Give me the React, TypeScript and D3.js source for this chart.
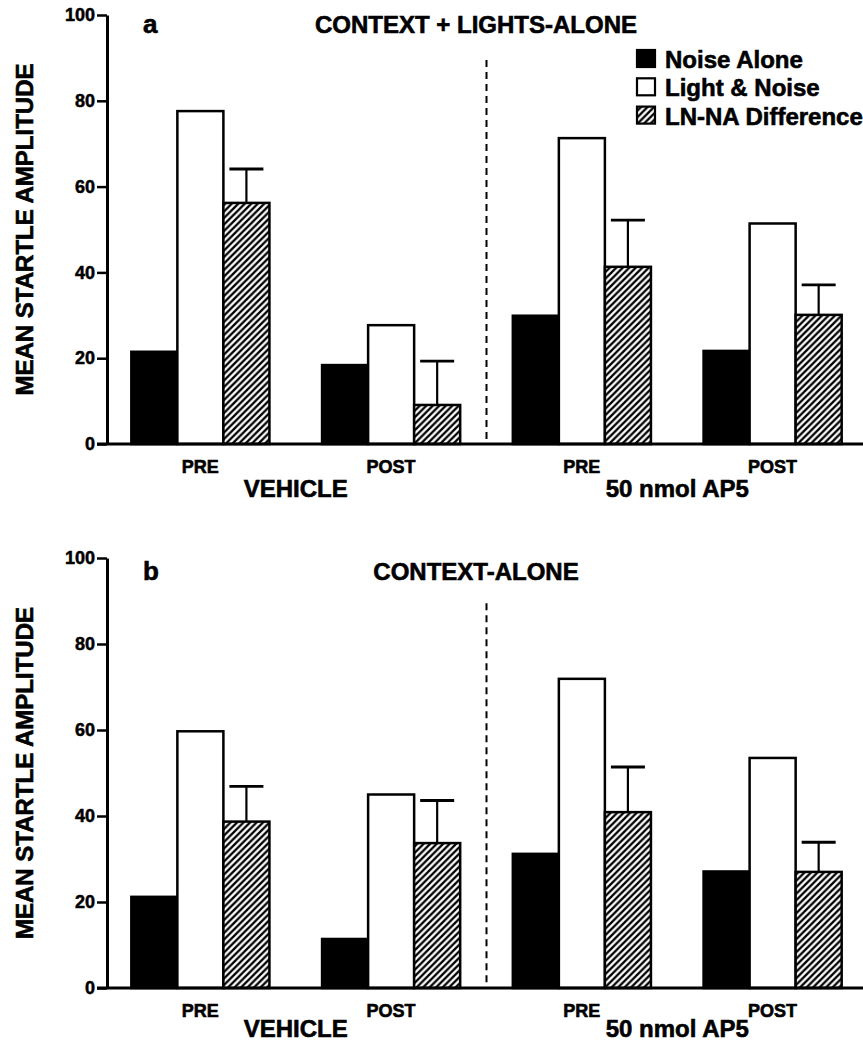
import * as d3 from "d3";
import { useEffect, useRef } from "react";

const groups = ["VEH-PRE", "VEH-POST", "AP5-PRE", "AP5-POST"];
const phaseLabels = ["PRE", "POST", "PRE", "POST"];
const treatments = ["VEHICLE", "50 nmol AP5"];
const series = ["Noise Alone", "Light & Noise", "LN-NA Difference"];
const yTicks = [0, 20, 40, 60, 80, 100];

// panel a: context + lights-alone
const noiseA = [21.5, 18.4, 29.9, 21.7];
const lightA = [77.6, 27.7, 71.3, 51.4];
const diffA = [56.2, 9.1, 41.3, 30.1];
const semA = [7.9, 10.2, 10.9, 7.0];

// panel b: context-alone
const noiseB = [21.2, 11.4, 31.2, 27.1];
const lightB = [59.7, 45.0, 71.9, 53.5];
const diffB = [38.7, 33.7, 40.9, 27.0];
const semB = [8.2, 9.9, 10.5, 6.9];

const WIDTH = 863;
const HEIGHT = 1042;
const FONT = "'Liberation Sans', Arial, Helvetica, sans-serif";
const AXIS_X = 107;
const DIVIDER_TOP = 89.5; // in data units
const fills = ["#000", "#fff", "url(#hatch)"];

const panels = [
  { letter: "a", title: "CONTEXT + LIGHTS-ALONE", top: 15, bottom: 444, titleY: 33, treatDy: 53, values: [noiseA, lightA, diffA], sem: semA, legend: true },
  { letter: "b", title: "CONTEXT-ALONE", top: 558, bottom: 988, titleY: 580, treatDy: 49, values: [noiseB, lightB, diffB], sem: semB, legend: false },
];

export default function App() {
  const ref = useRef<SVGSVGElement>(null);

  useEffect(() => {
    if (!ref.current) return;
    const svg = d3.select(ref.current);
    svg.selectAll("*").remove();

    const defs = svg.append("defs");
    const pat = defs.append("pattern")
      .attr("id", "hatch")
      .attr("patternUnits", "userSpaceOnUse")
      .attr("width", 6.5)
      .attr("height", 6.5);
    pat.append("rect").attr("width", 6.5).attr("height", 6.5).attr("fill", "#fff");
    pat.append("path")
      .attr("d", "M-1,1 l2,-2 M0,6.5 l6.5,-6.5 M5.5,7.5 l2,-2")
      .attr("stroke", "#000")
      .attr("stroke-width", 2.3);

    const x = d3.scaleBand<string>()
      .domain(groups)
      .range([105, 868])
      .paddingInner(0.276)
      .paddingOuter(0.138);
    const xs = d3.scaleBand<string>().domain(series).range([0, x.bandwidth()]);

    panels.forEach((p) => {
      const y = d3.scaleLinear().domain([0, 100]).range([p.bottom, p.top]);
      const g = svg.append("g").attr("font-family", FONT).attr("font-weight", "bold");

      const rows = groups.flatMap((grp, i) =>
        series.map((s, j) => ({ grp, s, j, v: p.values[j][i] }))
      );

      g.selectAll("rect.bar")
        .data(rows)
        .join("rect")
        .attr("class", "bar")
        .attr("x", (d) => x(d.grp)! + xs(d.s)!)
        .attr("y", (d) => y(d.v))
        .attr("width", xs.bandwidth())
        .attr("height", (d) => y(0) - y(d.v))
        .attr("fill", (d) => fills[d.j])
        .attr("stroke", "#000")
        .attr("stroke-width", 2.5);

      // error bars on the difference series
      const errs = groups.map((grp, i) => ({
        cx: x(grp)! + xs(series[2])! + xs.bandwidth() / 2,
        v: p.values[2][i],
        e: p.sem[i],
      }));
      g.selectAll("line.stem")
        .data(errs)
        .join("line")
        .attr("class", "stem")
        .attr("x1", (d) => d.cx).attr("x2", (d) => d.cx)
        .attr("y1", (d) => y(d.v)).attr("y2", (d) => y(d.v + d.e))
        .attr("stroke", "#000").attr("stroke-width", 2.2);
      g.selectAll("line.cap")
        .data(errs)
        .join("line")
        .attr("class", "cap")
        .attr("x1", (d) => d.cx - 17).attr("x2", (d) => d.cx + 17)
        .attr("y1", (d) => y(d.v + d.e)).attr("y2", (d) => y(d.v + d.e))
        .attr("stroke", "#000").attr("stroke-width", 2.8);

      // dashed divider between treatments
      const divX = (x(groups[1])! + x.bandwidth() + x(groups[2])!) / 2;
      g.append("line")
        .attr("x1", divX).attr("x2", divX)
        .attr("y1", y(DIVIDER_TOP)).attr("y2", y(0))
        .attr("stroke", "#000").attr("stroke-width", 2)
        .attr("stroke-dasharray", "7,5");

      // baseline
      g.append("line")
        .attr("x1", AXIS_X - 10).attr("x2", WIDTH)
        .attr("y1", y(0)).attr("y2", y(0))
        .attr("stroke", "#000").attr("stroke-width", 3);

      const axis = d3.axisLeft(y).tickValues(yTicks).tickSize(10).tickSizeOuter(0).tickPadding(2);
      const ga = g.append("g").attr("transform", `translate(${AXIS_X},0)`).call(axis);
      ga.attr("font-size", 18).attr("font-family", FONT).attr("font-weight", "bold");
      ga.select(".domain").attr("stroke-width", 3);
      ga.selectAll(".tick line").attr("stroke-width", 2.5);
      ga.selectAll(".tick text").attr("stroke", "#000").attr("stroke-width", 0.5);

      // text gets a thin stroke to match the heavy print face
      const txt = g.append("g").attr("stroke", "#000").attr("stroke-width", 0.6);

      // y label
      txt.append("text")
        .attr("transform", `translate(33,${(p.top + p.bottom) / 2}) rotate(-90)`)
        .attr("text-anchor", "middle")
        .attr("font-size", 24)
        .text("MEAN STARTLE AMPLITUDE");

      // phase labels
      txt.selectAll("text.phase")
        .data(groups)
        .join("text")
        .attr("class", "phase")
        .attr("x", (d) => x(d)! + x.bandwidth() / 2)
        .attr("y", y(0) + 29)
        .attr("text-anchor", "middle")
        .attr("font-size", 18)
        .text((_, i) => phaseLabels[i]);

      // treatment labels
      txt.selectAll("text.treat")
        .data(treatments)
        .join("text")
        .attr("class", "treat")
        .attr("x", (_, i) => (x(groups[i * 2])! + x(groups[i * 2 + 1])! + x.bandwidth()) / 2)
        .attr("y", y(0) + p.treatDy)
        .attr("text-anchor", "middle")
        .attr("font-size", 24)
        .text((d) => d);

      txt.append("text")
        .attr("x", 143).attr("y", p.titleY)
        .attr("font-size", 26)
        .text(p.letter);
      txt.append("text")
        .attr("x", 476).attr("y", p.titleY)
        .attr("text-anchor", "middle")
        .attr("font-size", 24)
        .text(p.title);

      if (p.legend) {
        const lg = g.append("g").attr("transform", "translate(636,49)");
        const items = lg.selectAll("g.item")
          .data(series)
          .join("g")
          .attr("class", "item")
          .attr("transform", (_, i) => `translate(0,${i * 28.3})`);
        items.append("rect")
          .attr("x", 1).attr("y", 1)
          .attr("width", 18).attr("height", 17)
          .attr("fill", (_, i) => fills[i])
          .attr("stroke", "#000").attr("stroke-width", 2.2);
        items.append("text")
          .attr("x", 29).attr("y", 19)
          .attr("font-size", 24)
          .attr("stroke", "#000").attr("stroke-width", 0.6)
          .text((d) => d);
      }
    });
  }, []);

  return (
    <svg
      ref={ref}
      width={WIDTH}
      height={HEIGHT}
      style={{ position: "absolute", left: 0, top: 0, background: "#fff" }}
    />
  );
}
